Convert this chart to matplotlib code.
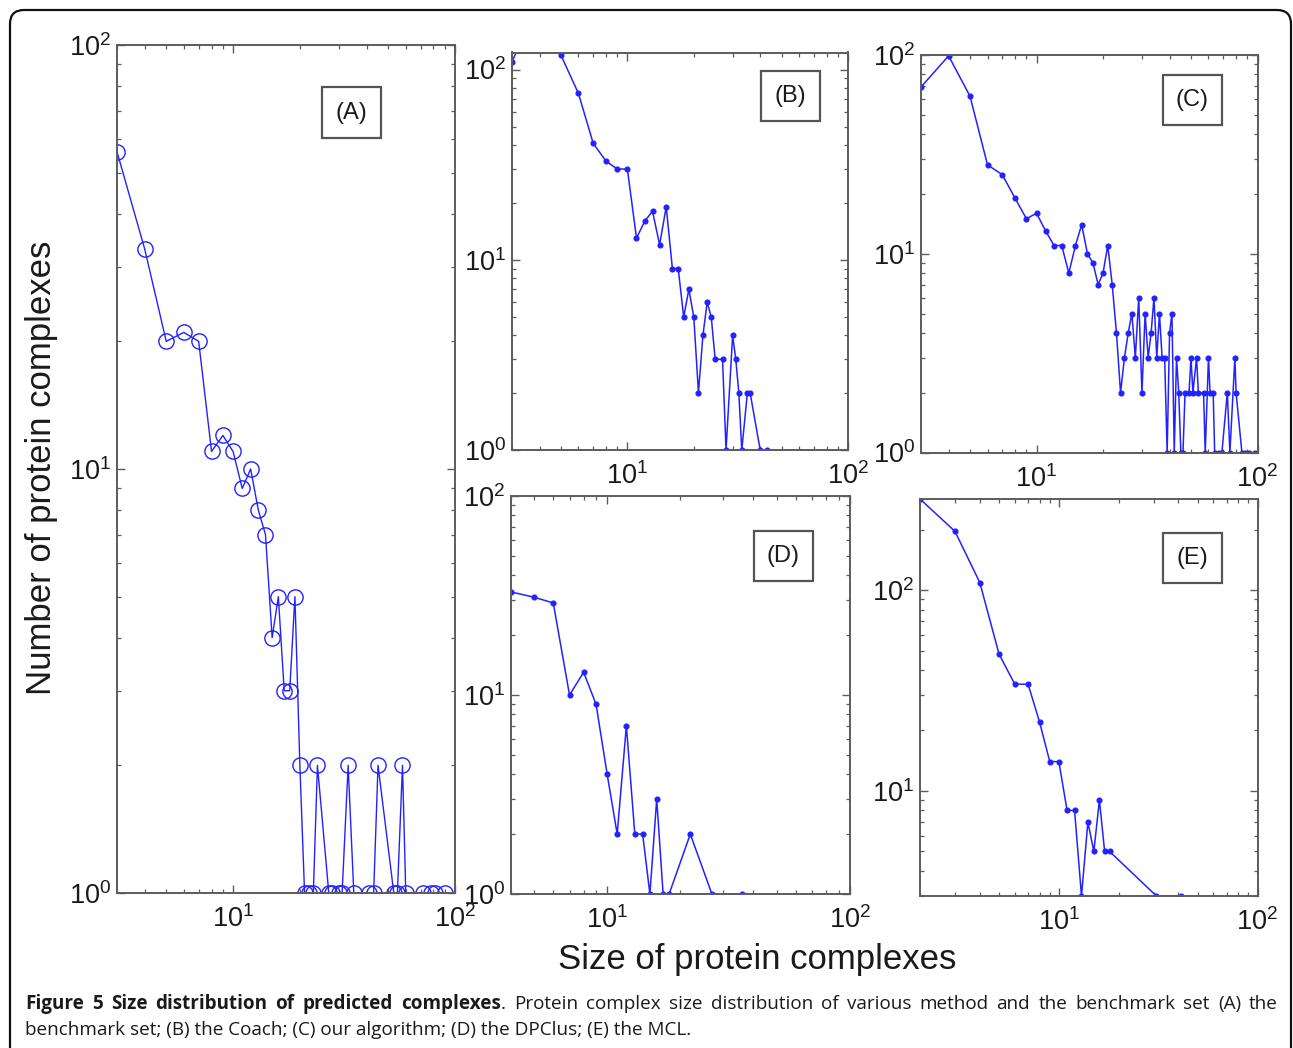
import matplotlib
matplotlib.use('Agg')
import matplotlib.pyplot as plt
from matplotlib.ticker import LogLocator, NullFormatter, LogFormatterSciNotation
from matplotlib.patches import Rectangle, FancyBboxPatch

W, H = 1293, 1048
plt.rcParams['font.family'] = ['Liberation Sans', 'DejaVu Sans']
plt.rcParams['mathtext.fontset'] = 'custom'
plt.rcParams['mathtext.rm'] = 'Liberation Sans'
plt.rcParams['mathtext.it'] = 'Liberation Sans:italic'
plt.rcParams['mathtext.bf'] = 'Liberation Sans:bold'

# ---------------- data ----------------
a_size = [3, 4, 5, 6, 7, 8, 9, 10, 11, 12, 13, 14, 15, 16, 17, 18, 19, 20, 21, 22, 23, 24,
          27, 28, 30, 31, 33, 35, 41, 43, 45, 53, 55, 58, 60, 72, 78, 81, 90]
a_count = [56, 33, 20, 21, 20, 11, 12, 11, 9, 10, 8, 7, 4, 5, 3, 3, 5, 2, 1, 1, 1, 2,
           1, 1, 1, 1, 2, 1, 1, 1, 2, 1, 1, 2, 1, 1, 1, 1, 1]

b_size = [3, 4, 5, 6, 7, 8, 9, 10, 11, 12, 13, 14, 15, 16, 17, 18, 19, 20, 21, 22, 23, 24,
          25, 27, 28, 30, 31, 32, 33, 35, 36, 40, 43]
b_count = [110, 230, 119, 75, 41, 33, 30, 30, 13, 16, 18, 12, 19, 9, 9, 5, 7, 5, 2, 4, 6, 5,
           3, 3, 1, 4, 3, 2, 1, 2, 2, 1, 1]

c_size = [3, 4, 5, 6, 7, 8, 9, 10, 11, 12, 13, 14, 15, 16, 17, 18, 19, 20, 21, 22, 23, 24,
          25, 26, 27, 28, 29, 30, 31, 32, 33, 34, 35, 36, 37, 38, 39, 40, 41, 42, 43, 44,
          45, 46, 47, 49, 50, 51, 53, 54, 57, 58, 60, 61, 63, 64, 67, 69, 73, 75, 79, 80,
          85, 88, 92, 97]
c_count = [69, 99, 62, 28, 25, 19, 15, 16, 13, 11, 11, 8, 11, 14, 10, 9, 7, 8, 11, 7, 4, 2,
           3, 4, 5, 3, 6, 2, 5, 3, 4, 6, 3, 5, 3, 3, 1, 4, 5, 1, 3, 2,
           1, 1, 2, 2, 3, 2, 3, 2, 2, 1, 3, 2, 2, 1, 1, 1, 2, 1, 3, 2,
           1, 1, 1, 1]

d_size = [4, 5, 6, 7, 8, 9, 10, 11, 12, 13, 14, 15, 16, 17, 18, 22, 27, 36]
d_count = [33, 31, 29, 10, 13, 9, 4, 2, 7, 2, 2, 1, 3, 1, 1, 2, 1, 1]

e_size = [2, 3, 4, 5, 6, 7, 8, 9, 10, 11, 12, 13, 14, 15, 16, 17, 18, 31, 41]
e_count = [284, 196, 109, 48, 34, 34, 22, 14, 14, 8, 8, 3, 7, 5, 9, 5, 5, 3, 3]

panel_names = ['(A)', '(B)', '(C)', '(D)', '(E)']
x_label = 'Size of protein complexes'
y_label = 'Number of protein complexes'
caption_bold = 'Figure 5 Size distribution of predicted complexes'
caption_rest1 = 'Protein complex size distribution of various method and the benchmark set (A) the'
caption_line2 = 'benchmark set; (B) the Coach; (C) our algorithm; (D) the DPClus; (E) the MCL.'

# ---------------- figure ----------------
fig = plt.figure(figsize=(W / 100, H / 100), dpi=100)
fig.patch.set_facecolor('white')

SPINE = '#5c5c5c'
TXT = '#1a1a1a'
BLUE = '#2222ff'


def px_axes(l, t, r, b):
    return fig.add_axes([l / W, 1 - b / H, (r - l) / W, (b - t) / H])


panels = [
    (a_size, a_count, (117, 45, 455, 893), (3, 100), (1, 100), (351, 112.5), True),
    (b_size, b_count, (512, 52.5, 848, 450), (3, 100), (1, 123), (790, 96), False),
    (c_size, c_count, (921, 55, 1257.5, 452.5), (3, 100), (1, 100), (1192, 100), False),
    (d_size, d_count, (510.5, 496, 850, 894), (4, 100), (1, 100), (783.5, 556), False),
    (e_size, e_count, (920, 499, 1257.5, 896), (2, 100), (3, 284), (1192, 558), False),
]

for name, (xs, ys, box, xl, yl, lab, circles) in zip(panel_names, panels):
    ax = px_axes(*box)
    ax.set_xscale('log')
    ax.set_yscale('log')
    if circles:
        ax.plot(xs, ys, color=BLUE, lw=1.0, marker='o', ms=11, mfc='none',
                mec=BLUE, mew=1.0)
    else:
        ax.plot(xs, ys, color=BLUE, lw=1.1, marker='o', ms=3.4, mfc=BLUE, mec=BLUE)
    ax.set_xlim(*xl)
    ax.set_ylim(*yl)
    for axis in (ax.xaxis, ax.yaxis):
        axis.set_major_locator(LogLocator(base=10))
        axis.set_major_formatter(LogFormatterSciNotation())
        axis.set_minor_locator(LogLocator(base=10, subs=range(2, 10)))
        axis.set_minor_formatter(NullFormatter())
    ax.tick_params(which='both', direction='in', top=True, right=True,
                   color=SPINE, labelcolor=TXT, labelsize=19.5)
    ax.tick_params(which='major', length=6, width=1.0)
    ax.tick_params(which='minor', length=3.2, width=0.9)
    ax.tick_params(axis='x', which='major', pad=9)
    ax.tick_params(axis='y', which='major', pad=4)
    for sp in ax.spines.values():
        sp.set_color(SPINE)
        sp.set_linewidth(1.4)

    # panel label box
    cx, cy = lab
    bw, bh = 59, 50
    fig.add_artist(Rectangle(((cx - bw / 2) / W, 1 - (cy + bh / 2) / H), bw / W, bh / H,
                             transform=fig.transFigure, facecolor='white',
                             edgecolor='#555555', lw=1.6, zorder=5))
    fig.text(cx / W, 1 - cy / H, name, ha='center', va='center', fontsize=17,
             color=TXT, zorder=6)

fig.text(42 / W, 1 - 468 / H, y_label, rotation=90, ha='center', va='center',
         fontsize=25, color=TXT)
fig.text(757 / W, 1 - 960 / H, x_label, ha='center', va='center',
         fontsize=25, color=TXT)

# outer rounded frame (pixel coordinates)
fig.add_artist(FancyBboxPatch((10, -30), 1281, H - 10 + 30,
                              boxstyle='round,pad=0,rounding_size=14',
                              transform=None, fill=False, edgecolor='#111111', lw=1.6))

# ---------------- caption ----------------
cap_family = ['Open Sans', 'DejaVu Sans']
fig.canvas.draw()
renderer = fig.canvas.get_renderer()

y2 = 1 - 1030 / H
t2 = fig.text(25 / W, y2, caption_line2, ha='left', va='center', fontsize=12,
              family=cap_family, color=TXT)
w2 = t2.get_window_extent(renderer).width
size = 12 * 665 / w2
t2.set_fontsize(size)

y1 = 1 - 1004 / H
tokens = []
for wd in caption_bold.split():
    tokens.append((wd, 'bold', True))
tokens.append(('.', 'normal', False))
for wd in caption_rest1.split():
    tokens.append((wd, 'normal', True))
tokens[0] = (tokens[0][0], tokens[0][1], False)

objs = []
for txt, wt, _ in tokens:
    o = fig.text(0, y1, txt, ha='left', va='center', fontsize=size,
                 family=cap_family, weight=wt, color=TXT)
    objs.append(o)
widths = [o.get_window_extent(renderer).width for o in objs]
ngaps = sum(1 for t in tokens if t[2])
gap = (1278 - 25 - sum(widths)) / ngaps
x = 25.0
for (txt, wt, sp), o, wdt in zip(tokens, objs, widths):
    if sp:
        x += gap
    o.set_x(x / W)
    x += wdt

fig.savefig('out.png', dpi=100, facecolor='white')
